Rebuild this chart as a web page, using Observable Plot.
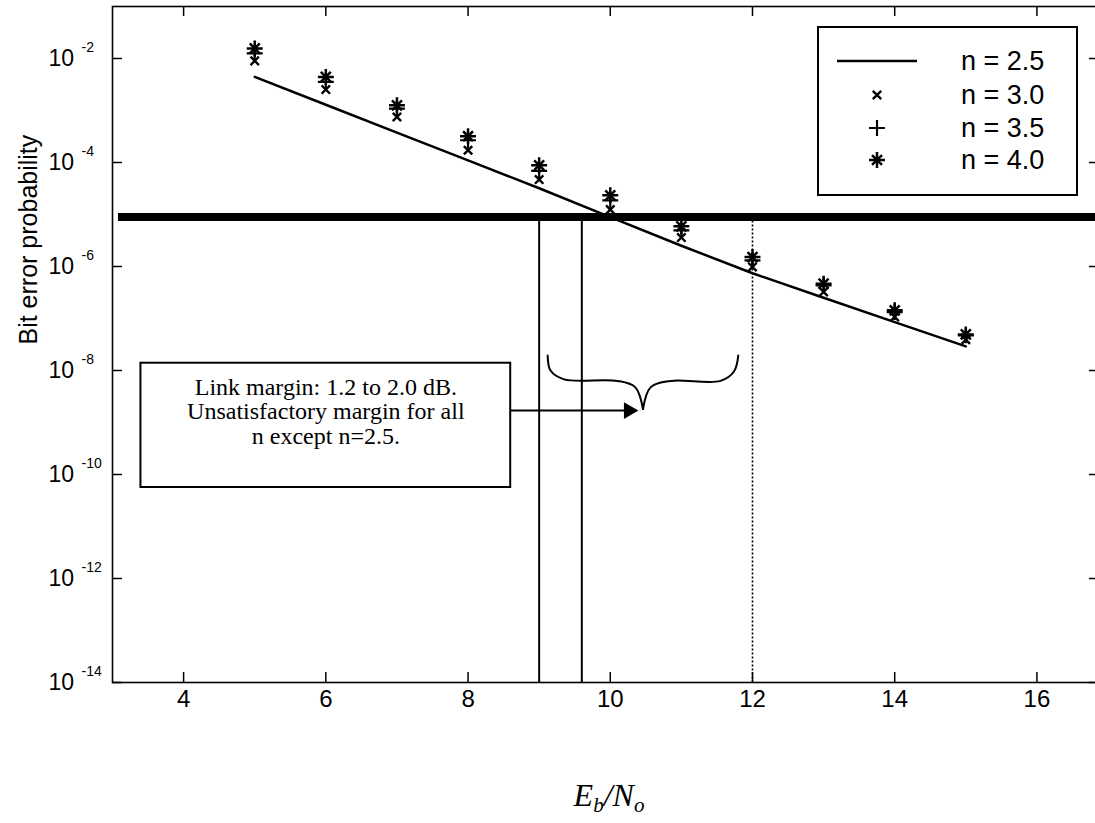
<!DOCTYPE html>
<html><head><meta charset="utf-8">
<script src="https://cdn.jsdelivr.net/npm/d3@7"></script>
<script src="https://cdn.jsdelivr.net/npm/@observablehq/plot@0.6"></script>
<style>body{margin:0;background:#fff} svg{display:block;background:#fff}</style>
</head><body><div id="chart"></div>
<script>
// ---- data ----
const ebno = [5, 6, 7, 8, 9, 10, 11, 12, 13, 14, 15];
const ber_n25 = [4.42e-3, 1.29e-3, 3.76e-4, 1.10e-4, 3.2e-5, 8.9e-6, 2.51e-6, 7.41e-7, 2.51e-7, 8.51e-8, 2.91e-8];
const ber_n30 = [9.0e-3, 2.53e-3, 7.5e-4, 1.72e-4, 4.7e-5, 1.24e-5, 3.6e-6, 9.8e-7, 3.24e-7, 1.07e-7, 3.9e-8];
const ber_n35 = [1.25e-2, 3.55e-3, 1.09e-3, 2.68e-4, 6.9e-5, 1.87e-5, 4.97e-6, 1.31e-6, 4.35e-7, 1.33e-7, 4.74e-8];
const ber_n40 = [1.56e-2, 4.43e-3, 1.26e-3, 3.2e-4, 8.85e-5, 2.34e-5, 5.93e-6, 1.52e-6, 4.68e-7, 1.44e-7, 4.95e-8];
const berThreshold = 9e-6;
const marginEbNo = [9.0, 9.6];
const refEbNo = [12];
const xTickValues = [4, 6, 8, 10, 12, 14, 16];
const yTickExponents = [-2, -4, -6, -8, -10, -12, -14];
const seriesLabels = ["n = 2.5", "n = 3.0", "n = 3.5", "n = 4.0"];
const annotationLines = ["Link margin: 1.2 to 2.0 dB.", "Unsatisfactory margin for all", "n except n=2.5."];
// annotation anchors (data coordinates)
const noteBox = [{x1: 3.4, x2: 8.6, y1: 10 ** -7.86, y2: 10 ** -10.25}];
const noteTextAt = [{x: 6.0, y: 10 ** -8.79}];
const arrowLine = [{x1: 8.6, x2: 10.2, y: 10 ** -8.77}];
const arrowHead = [{x: 10.26, y: 10 ** -8.77}];
const braceLeft = [[9.12, -7.71], [9.16, -8.0], [9.35, -8.17], [10.1, -8.2], [10.35, -8.32], [10.46, -8.74]];
const braceRight = [[10.46, -8.74], [10.57, -8.32], [10.85, -8.2], [11.55, -8.2], [11.74, -8.02], [11.8, -7.71]];

const pts = (ys) => ebno.map((x, i) => ({x, y: ys[i]}));
const FONT = "Liberation Sans, Arial, sans-serif";
const SERIF = "Liberation Serif, Times New Roman, serif";

const W = 1095, H = 823, mL = 112, mR = -4, mT = 6, mB = 141;
const plotW = W - mL - mR, plotH = H - mT - mB;
const TK = 10;
const yTickValues = yTickExponents.map(e => 10 ** e);
const R_TIMES = 3.9, R_PLUS = 5.2, R_STAR_X = 4.6;

const brace = [
  ...braceLeft.map(([x, e]) => ({x, y: 10 ** e, s: "L"})),
  ...braceRight.map(([x, e]) => ({x, y: 10 ** e, s: "R"}))
];

const chart = Plot.plot({
  width: W, height: H,
  marginLeft: mL, marginRight: mR, marginTop: mT, marginBottom: mB,
  style: {background: "#fff", color: "#000"},
  x: {domain: [3, 16.88], axis: null},
  y: {type: "log", domain: [1e-14, 1e-1], axis: null},
  marks: [
    Plot.ruleX(marginEbNo, {x: d => d, y1: berThreshold, y2: 1e-14, strokeWidth: 2, stroke: "#000"}),
    Plot.ruleX(refEbNo, {x: d => d, y1: berThreshold, y2: 1e-14, strokeWidth: 1.6, stroke: "#000", strokeDasharray: "2,2"}),
    Plot.ruleY([berThreshold], {y: d => d, strokeWidth: 8, stroke: "#000", insetLeft: 6}),
    Plot.line(pts(ber_n25), {x: "x", y: "y", stroke: "#000", strokeWidth: 2.5}),
    Plot.dot(pts(ber_n30), {x: "x", y: "y", symbol: "times", r: R_TIMES, stroke: "#000", strokeWidth: 2.4}),
    Plot.dot(pts(ber_n35), {x: "x", y: "y", symbol: "plus", r: R_PLUS, stroke: "#000", strokeWidth: 2.2}),
    Plot.dot(pts(ber_n40), {x: "x", y: "y", symbol: "plus", r: R_PLUS, stroke: "#000", strokeWidth: 2.5}),
    Plot.dot(pts(ber_n40), {x: "x", y: "y", symbol: "times", r: R_STAR_X, stroke: "#000", strokeWidth: 2.5}),
    Plot.frame({stroke: "#000", strokeWidth: 1.6}),
    Plot.tickX(xTickValues, {x: d => d, insetTop: plotH - TK, stroke: "#000", strokeWidth: 1.5}),
    Plot.tickX(xTickValues, {x: d => d, insetBottom: plotH - TK, stroke: "#000", strokeWidth: 1.5}),
    Plot.tickY(yTickValues, {y: d => d, insetRight: plotW - TK, stroke: "#000", strokeWidth: 1.5}),
    Plot.tickY(yTickValues, {y: d => d, insetLeft: plotW - TK, stroke: "#000", strokeWidth: 1.5}),
    Plot.text(xTickValues, {x: d => d, frameAnchor: "bottom", dy: 24, text: d => String(d), fontSize: 24, fontFamily: FONT, fill: "#000"}),
    Plot.text(yTickValues, {y: d => d, frameAnchor: "left", dx: -64, text: () => "10", textAnchor: "start", fontSize: 23, fontFamily: FONT, fill: "#000"}),
    Plot.text(yTickExponents, {y: d => 10 ** d, frameAnchor: "left", dx: -31, dy: -11, text: d => String(d), textAnchor: "start", fontSize: 14, fontFamily: FONT, fill: "#000"}),
    Plot.text(["Bit error probability"], {y: () => 10 ** -7.5, frameAnchor: "left", dx: -84, rotate: -90, fontSize: 25, fontFamily: FONT, fill: "#000"}),
    Plot.rect(noteBox, {x1: "x1", x2: "x2", y1: "y1", y2: "y2", fill: "#fff", stroke: "#000", strokeWidth: 2}),
    Plot.text(noteTextAt, {x: "x", y: "y", text: () => annotationLines.join("\n"), lineHeight: 1.02, fontSize: 24, fontFamily: SERIF, fill: "#000"}),
    Plot.link(arrowLine, {x1: "x1", x2: "x2", y1: "y", y2: "y", stroke: "#000", strokeWidth: 2}),
    Plot.dot(arrowHead, {x: "x", y: "y", symbol: "triangle2", r: 8, rotate: 90, fill: "#000"}),
    Plot.line(brace, {x: "x", y: "y", z: "s", curve: "catmull-rom", stroke: "#000", strokeWidth: 2})
  ]
});

document.getElementById("chart").appendChild(chart);
const svg = d3.select(chart);

// x label E_b/N_o
const xl = svg.append("text").attr("x", 609).attr("y", 806)
  .attr("font-family", SERIF).attr("font-style", "italic").attr("font-size", 32).attr("text-anchor", "middle").attr("fill", "#000");
xl.append("tspan").text("E");
xl.append("tspan").attr("font-size", 21).attr("dy", 6).text("b");
xl.append("tspan").attr("dy", -6).text("/N");
xl.append("tspan").attr("font-size", 21).attr("dy", 6).text("o");

// legend
const lg = svg.append("g").attr("font-family", FONT).attr("font-size", 27).attr("fill", "#000").attr("text-anchor", "start");
lg.append("rect").attr("x", 818).attr("y", 27).attr("width", 259).attr("height", 168)
  .attr("fill", "#fff").attr("stroke", "#000").attr("stroke-width", 2);
const rowY = [61, 95, 128, 160];
const sym = (type, r) => d3.symbol(type, r * r * Math.PI)();
lg.append("line").attr("x1", 837).attr("x2", 917).attr("y1", rowY[0]).attr("y2", rowY[0]).attr("stroke", "#000").attr("stroke-width", 2.5);
lg.append("path").attr("d", sym(d3.symbolTimes, R_TIMES)).attr("transform", `translate(877,${rowY[1]})`).attr("fill", "none").attr("stroke", "#000").attr("stroke-width", 2.4);
lg.append("path").attr("d", sym(d3.symbolPlus, R_PLUS)).attr("transform", `translate(877,${rowY[2]})`).attr("fill", "none").attr("stroke", "#000").attr("stroke-width", 2.2);
lg.append("path").attr("d", sym(d3.symbolPlus, R_PLUS)).attr("transform", `translate(877,${rowY[3]})`).attr("fill", "none").attr("stroke", "#000").attr("stroke-width", 2.5);
lg.append("path").attr("d", sym(d3.symbolTimes, R_STAR_X)).attr("transform", `translate(877,${rowY[3]})`).attr("fill", "none").attr("stroke", "#000").attr("stroke-width", 2.5);
seriesLabels.forEach((s, i) => lg.append("text").attr("x", 961).attr("y", rowY[i]).attr("dy", "0.35em").text(s));
</script>
</body></html>
